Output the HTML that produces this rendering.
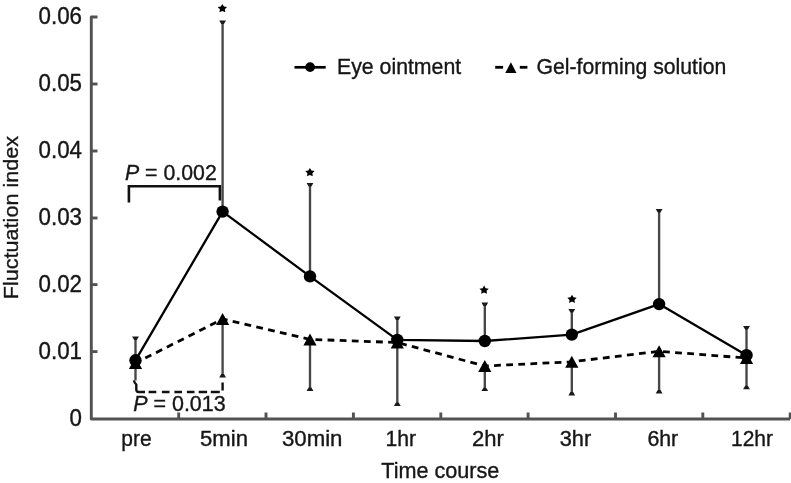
<!DOCTYPE html><html><head><meta charset="utf-8"><style>html,body{margin:0;padding:0;background:#fff;}svg{display:block;will-change:transform;}text{font-family:"Liberation Sans",sans-serif;font-size:21px;fill:#161616;stroke:#161616;stroke-width:0.35px;}</style></head><body>
<svg width="791" height="483" viewBox="0 0 791 483">
<rect width="791" height="483" fill="#fff"/>
<path d="M97.5,17.0 H91.3 V419.0 H790.2" fill="none" stroke="#525252" stroke-width="2.9" stroke-linejoin="round"/>
<line x1="91.3" y1="351.6" x2="97.5" y2="351.6" stroke="#525252" stroke-width="2.9"/>
<line x1="91.3" y1="284.6" x2="97.5" y2="284.6" stroke="#525252" stroke-width="2.9"/>
<line x1="91.3" y1="218.0" x2="97.5" y2="218.0" stroke="#525252" stroke-width="2.9"/>
<line x1="91.3" y1="151.0" x2="97.5" y2="151.0" stroke="#525252" stroke-width="2.9"/>
<line x1="91.3" y1="84.0" x2="97.5" y2="84.0" stroke="#525252" stroke-width="2.9"/>
<line x1="178.7" y1="419.0" x2="178.7" y2="412.5" stroke="#525252" stroke-width="2.9"/>
<line x1="266.0" y1="419.0" x2="266.0" y2="412.5" stroke="#525252" stroke-width="2.9"/>
<line x1="353.4" y1="419.0" x2="353.4" y2="412.5" stroke="#525252" stroke-width="2.9"/>
<line x1="440.8" y1="419.0" x2="440.8" y2="412.5" stroke="#525252" stroke-width="2.9"/>
<line x1="528.1" y1="419.0" x2="528.1" y2="412.5" stroke="#525252" stroke-width="2.9"/>
<line x1="615.5" y1="419.0" x2="615.5" y2="412.5" stroke="#525252" stroke-width="2.9"/>
<line x1="702.8" y1="419.0" x2="702.8" y2="412.5" stroke="#525252" stroke-width="2.9"/>
<line x1="790.2" y1="419.0" x2="790.2" y2="412.5" stroke="#525252" stroke-width="2.9"/>
<text transform="translate(82.00,425.90) scale(1.063,1.100)" text-anchor="end">0</text>
<text transform="translate(82.00,358.50) scale(1.063,1.100)" text-anchor="end">0.01</text>
<text transform="translate(82.00,291.50) scale(1.063,1.100)" text-anchor="end">0.02</text>
<text transform="translate(82.00,224.90) scale(1.063,1.100)" text-anchor="end">0.03</text>
<text transform="translate(82.00,157.90) scale(1.063,1.100)" text-anchor="end">0.04</text>
<text transform="translate(82.00,90.90) scale(1.063,1.100)" text-anchor="end">0.05</text>
<text transform="translate(82.00,23.90) scale(1.063,1.100)" text-anchor="end">0.06</text>
<text transform="translate(136.50,445.50) scale(1.000,1.090)" text-anchor="middle">pre</text>
<text transform="translate(224.00,445.50) scale(1.053,1.090)" text-anchor="middle">5min</text>
<text transform="translate(312.20,445.50) scale(1.059,1.090)" text-anchor="middle">30min</text>
<text transform="translate(400.70,445.50) scale(1.010,1.090)" text-anchor="middle">1hr</text>
<text transform="translate(487.90,445.50) scale(1.050,1.090)" text-anchor="middle">2hr</text>
<text transform="translate(575.40,445.50) scale(1.037,1.090)" text-anchor="middle">3hr</text>
<text transform="translate(662.80,445.50) scale(1.016,1.090)" text-anchor="middle">6hr</text>
<text transform="translate(752.00,445.50) scale(1.000,1.090)" text-anchor="middle">12hr</text>
<text transform="translate(440.30,478.00) scale(1.030,1.090)" text-anchor="middle">Time course</text>
<text transform="translate(18.30,217.60) rotate(-90) scale(1.028,1.000)" text-anchor="middle">Fluctuation index</text>
<line x1="135.5" y1="360.3" x2="135.5" y2="338.0" stroke="#474747" stroke-width="2.35"/>
<path d="M132.10,336.60 H138.90 L136.85,340.00 H134.15Z" fill="#1a1a1a"/>
<line x1="135.5" y1="363.0" x2="135.5" y2="380.4" stroke="#474747" stroke-width="2.35"/>
<line x1="222.6" y1="211.6" x2="222.6" y2="22.0" stroke="#474747" stroke-width="2.35"/>
<path d="M219.20,20.60 H226.00 L223.95,24.00 H221.25Z" fill="#1a1a1a"/>
<line x1="222.6" y1="319.1" x2="222.6" y2="376.0" stroke="#474747" stroke-width="2.35"/>
<path d="M219.20,377.40 H226.00 L223.95,374.00 H221.25Z" fill="#1a1a1a"/>
<line x1="310.0" y1="276.4" x2="310.0" y2="184.5" stroke="#474747" stroke-width="2.35"/>
<path d="M306.60,183.10 H313.40 L311.35,186.50 H308.65Z" fill="#1a1a1a"/>
<line x1="310.0" y1="339.4" x2="310.0" y2="389.5" stroke="#474747" stroke-width="2.35"/>
<path d="M306.60,390.90 H313.40 L311.35,387.50 H308.65Z" fill="#1a1a1a"/>
<line x1="397.3" y1="339.9" x2="397.3" y2="318.0" stroke="#474747" stroke-width="2.35"/>
<path d="M393.90,316.60 H400.70 L398.65,320.00 H395.95Z" fill="#1a1a1a"/>
<line x1="397.3" y1="342.5" x2="397.3" y2="404.6" stroke="#474747" stroke-width="2.35"/>
<path d="M393.90,406.00 H400.70 L398.65,402.60 H395.95Z" fill="#1a1a1a"/>
<line x1="484.8" y1="341.0" x2="484.8" y2="304.0" stroke="#474747" stroke-width="2.35"/>
<path d="M481.40,302.60 H488.20 L486.15,306.00 H483.45Z" fill="#1a1a1a"/>
<line x1="484.8" y1="366.0" x2="484.8" y2="389.7" stroke="#474747" stroke-width="2.35"/>
<path d="M481.40,391.10 H488.20 L486.15,387.70 H483.45Z" fill="#1a1a1a"/>
<line x1="571.8" y1="334.6" x2="571.8" y2="310.4" stroke="#474747" stroke-width="2.35"/>
<path d="M568.40,309.00 H575.20 L573.15,312.40 H570.45Z" fill="#1a1a1a"/>
<line x1="571.8" y1="361.8" x2="571.8" y2="394.0" stroke="#474747" stroke-width="2.35"/>
<path d="M568.40,395.40 H575.20 L573.15,392.00 H570.45Z" fill="#1a1a1a"/>
<line x1="659.1" y1="304.1" x2="659.1" y2="210.5" stroke="#474747" stroke-width="2.35"/>
<path d="M655.70,209.10 H662.50 L660.45,212.50 H657.75Z" fill="#1a1a1a"/>
<line x1="659.1" y1="351.3" x2="659.1" y2="392.1" stroke="#474747" stroke-width="2.35"/>
<path d="M655.70,393.50 H662.50 L660.45,390.10 H657.75Z" fill="#1a1a1a"/>
<line x1="746.5" y1="355.2" x2="746.5" y2="327.4" stroke="#474747" stroke-width="2.35"/>
<path d="M743.10,326.00 H749.90 L747.85,329.40 H745.15Z" fill="#1a1a1a"/>
<line x1="746.5" y1="358.0" x2="746.5" y2="387.8" stroke="#474747" stroke-width="2.35"/>
<path d="M743.10,389.20 H749.90 L747.85,385.80 H745.15Z" fill="#1a1a1a"/>
<path d="M128.9,202.6 V186.2 H219.9 V200.5" fill="none" stroke="#111" stroke-width="2.6"/>
<path d="M133.9,380.4 Q134.4,383.2 136.3,384.4 V389.6 Q136.3,392 138.7,392 H145 M148.6,392 H156.3 M161.9,392 H169.5 M174.4,392 H182 M186.9,392 H194.5 M198.7,392 H207.1 M210.8,392 H219.8 M222.6,390.6 V382.6" fill="none" stroke="#111" stroke-width="2.4" stroke-linejoin="round"/>
<text transform="translate(125,180) scale(1.014,1.09)"><tspan font-style="italic">P</tspan> = 0.002</text>
<text transform="translate(133.2,411.3) scale(1.022,1.09)"><tspan font-style="italic">P</tspan> = 0.013</text>
<polyline points="135.5,360.3 222.6,211.6 310.0,276.4 397.3,339.9 484.8,341.0 571.8,334.6 659.1,304.1 746.5,355.2" fill="none" stroke="#000" stroke-width="2.3" stroke-linejoin="round"/>
<polyline points="135.5,363.0 222.6,319.1 310.0,339.4 397.3,342.5 484.8,366.0 571.8,361.8 659.1,351.3 746.5,358.0" fill="none" stroke="#000" stroke-width="2.8" stroke-dasharray="6.8 5.32" stroke-dashoffset="1.2"/>
<path d="M135.50,357.00 L142.10,369.00 L128.90,369.00Z" fill="#000"/>
<path d="M222.60,313.10 L229.20,325.10 L216.00,325.10Z" fill="#000"/>
<path d="M310.00,333.40 L316.60,345.40 L303.40,345.40Z" fill="#000"/>
<path d="M397.30,336.50 L403.90,348.50 L390.70,348.50Z" fill="#000"/>
<path d="M484.80,360.00 L491.40,372.00 L478.20,372.00Z" fill="#000"/>
<path d="M571.80,355.80 L578.40,367.80 L565.20,367.80Z" fill="#000"/>
<path d="M659.10,345.30 L665.70,357.30 L652.50,357.30Z" fill="#000"/>
<path d="M746.50,352.00 L753.10,364.00 L739.90,364.00Z" fill="#000"/>
<circle cx="135.5" cy="360.3" r="6.2" fill="#000"/>
<circle cx="222.6" cy="211.6" r="6.2" fill="#000"/>
<circle cx="310.0" cy="276.4" r="6.2" fill="#000"/>
<circle cx="397.3" cy="339.9" r="6.2" fill="#000"/>
<circle cx="484.8" cy="341.0" r="6.2" fill="#000"/>
<circle cx="571.8" cy="334.6" r="6.2" fill="#000"/>
<circle cx="659.1" cy="304.1" r="6.2" fill="#000"/>
<circle cx="746.5" cy="355.2" r="6.2" fill="#000"/>
<path transform="translate(222.35,8.5) scale(1,0.93)" d="M0.00,-4.90 L1.53,-2.10 L4.66,-1.51 L2.47,0.80 L2.88,3.96 L0.00,2.60 L-2.88,3.96 L-2.47,0.80 L-4.66,-1.51 L-1.53,-2.10Z" fill="#000"/>
<path transform="translate(309.9,172.5) scale(1,0.93)" d="M0.00,-4.90 L1.53,-2.10 L4.66,-1.51 L2.47,0.80 L2.88,3.96 L0.00,2.60 L-2.88,3.96 L-2.47,0.80 L-4.66,-1.51 L-1.53,-2.10Z" fill="#000"/>
<path transform="translate(484.1,290.09999999999997) scale(1,0.93)" d="M0.00,-4.90 L1.53,-2.10 L4.66,-1.51 L2.47,0.80 L2.88,3.96 L0.00,2.60 L-2.88,3.96 L-2.47,0.80 L-4.66,-1.51 L-1.53,-2.10Z" fill="#000"/>
<path transform="translate(572.0,299.2) scale(1,0.93)" d="M0.00,-4.90 L1.53,-2.10 L4.66,-1.51 L2.47,0.80 L2.88,3.96 L0.00,2.60 L-2.88,3.96 L-2.47,0.80 L-4.66,-1.51 L-1.53,-2.10Z" fill="#000"/>
<line x1="294.5" y1="67.3" x2="325.7" y2="67.3" stroke="#000" stroke-width="2.7"/>
<circle cx="310.1" cy="67.1" r="4.9" fill="#000"/>
<text transform="translate(337.00,74.20) scale(1.014,1.050)">Eye ointment</text>
<line x1="495.2" y1="67.3" x2="503.1" y2="67.3" stroke="#000" stroke-width="2.8"/>
<line x1="519.8" y1="67.3" x2="527.4" y2="67.3" stroke="#000" stroke-width="2.8"/>
<path d="M510.90,62.30 L516.50,72.90 L505.30,72.90Z" fill="#000"/>
<text transform="translate(536.50,74.00) scale(1.010,1.050)">Gel-forming solution</text>
</svg></body></html>
